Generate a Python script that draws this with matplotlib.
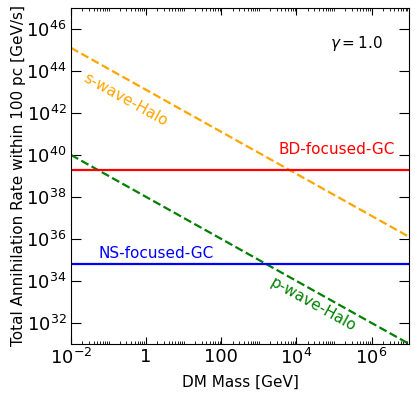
import numpy as np
import matplotlib
matplotlib.use('Agg')
import matplotlib.pyplot as plt
from matplotlib.ticker import FixedLocator, LogLocator, NullLocator, NullFormatter, FixedFormatter

# DM mass range [GeV]
mass = np.logspace(-2, 7, 200)

# rate normalisations [GeV/s]
s_wave_at_1GeV = 1.25e43   # falls as 1/m
p_wave_at_1GeV = 1.0e38    # falls as 1/m
bd_gc_rate = 2.0e39
ns_gc_rate = 6.5e34

x_ticks = [1e-2, 1, 1e2, 1e4, 1e6]
x_ticklabels = [r'$10^{-2}$', '1', '100', r'$10^4$', r'$10^6$']
y_ticks = [1e32, 1e34, 1e36, 1e38, 1e40, 1e42, 1e44, 1e46]
y_ticklabels = [r'$10^{%d}$' % p for p in range(32, 47, 2)]

fig = plt.figure(figsize=(4.15, 3.94), dpi=100)
ax = fig.add_axes([0.171, 0.127, 0.815, 0.853])

s_wave = s_wave_at_1GeV / mass
p_wave = p_wave_at_1GeV / mass

ax.plot(mass, s_wave, '--', color='orange', lw=1.6)
ax.plot(mass, p_wave, '--', color='green', lw=1.6)
ax.axhline(bd_gc_rate, color='red', lw=1.6)
ax.axhline(ns_gc_rate, color='blue', lw=1.6)

ax.set_xscale('log')
ax.set_yscale('log')
ax.set_xlim(1e-2, 1e7)
ax.set_ylim(1e31, 1e47)

ax.xaxis.set_major_locator(FixedLocator(x_ticks))
ax.xaxis.set_major_formatter(FixedFormatter(x_ticklabels))
ax.xaxis.set_minor_locator(LogLocator(base=10, subs=np.arange(1, 10), numticks=100))
ax.xaxis.set_minor_formatter(NullFormatter())
ax.yaxis.set_major_locator(FixedLocator(y_ticks))
ax.yaxis.set_major_formatter(FixedFormatter(y_ticklabels))
ax.yaxis.set_minor_locator(NullLocator())

ax.tick_params(axis='x', which='major', direction='in', top=True, length=5, labelsize=13, pad=3)
ax.tick_params(axis='x', which='minor', direction='in', top=True, length=2.5)
ax.tick_params(axis='y', which='major', direction='in', right=True, length=7, labelsize=13, pad=3)

ax.set_xlabel('DM Mass [GeV]', fontsize=11, labelpad=5)
ax.set_ylabel('Total Annihilation Rate within 100 pc [GeV/s]', fontsize=11, labelpad=0)

ax.text(0.28, 10**42.62, 's-wave-Halo', color='orange', fontsize=11,
        rotation=-29, ha='center', va='center')
ax.text(10**4.43, 10**32.86, 'p-wave-Halo', color='green', fontsize=11,
        rotation=-29, ha='center', va='center')
ax.text(10**6.61, 10**40.24, 'BD-focused-GC', color='red', fontsize=11,
        ha='right', va='center')
ax.text(10**-1.28, 10**35.29, 'NS-focused-GC', color='blue', fontsize=11,
        ha='left', va='center')
ax.text(0.923, 0.893, r'$\gamma = 1.0$', transform=ax.transAxes, fontsize=11,
        ha='right', va='center')

fig.savefig('out.png', dpi=100)
